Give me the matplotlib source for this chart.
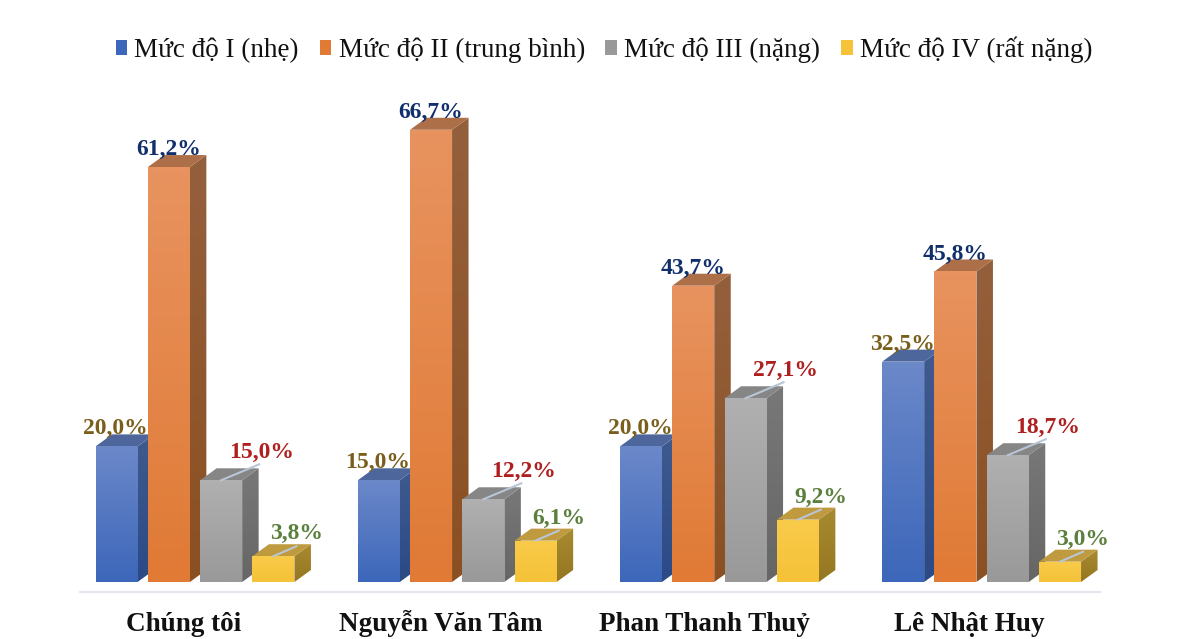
import numpy as np
import matplotlib
matplotlib.use("Agg")
import matplotlib.pyplot as plt
from matplotlib.colors import LinearSegmentedColormap
from matplotlib.patches import Patch, Polygon

studies = ["Chúng tôi", "Nguyễn Văn Tâm", "Phan Thanh Thuỷ", "Lê Nhật Huy"]
levels = ["Mức độ I (nhẹ)", "Mức độ II (trung bình)", "Mức độ III (nặng)", "Mức độ IV (rất nặng)"]
muc_1 = [20.0, 15.0, 20.0, 32.5]
muc_2 = [61.2, 66.7, 43.7, 45.8]
muc_3 = [15.0, 12.2, 27.1, 18.7]
muc_4 = [3.8, 6.1, 9.2, 3.0]

W, H = 1188, 639
PX_X = 262.2   # pixels per group
PX_Y = 6.78    # pixels per percent
BASE_PX = 582
CENTER_PX = 195

bar_w = 42 / PX_X
step = 52.3 / PX_X
dx = 16.5 / PX_X
dy = 12 / PX_Y

# front top/bottom, side top/bottom, top face
styles = [
    ("#6b88c9", "#3d67ba", "#3f5a8e", "#2b4a86", "#4d669c"),
    ("#e8935f", "#e07a35", "#94603c", "#8b5022", "#ad6f48"),
    ("#b0b0b0", "#999999", "#787878", "#666666", "#868686"),
    ("#f9cb4a", "#f5c238", "#a88a30", "#957722", "#bf9a3e"),
]
label_colors = ["#7a5f1c", "#112f6b", "#b01f1f", "#5b7f3c"]
# label offset from the front top centre, in pixels
label_off = [(-1, 12), (0, 12), (40, 22), (23, 17)]
leader_end = [None, None, (38, 16), (23, 10)]

plt.rcParams["font.family"] = ["Liberation Serif", "DejaVu Serif"]

fig = plt.figure(figsize=(W / 100, H / 100), dpi=100)
ax = fig.add_axes([0, 0, 1, 1])


def gradient_face(pts, c_top, c_bottom, zorder):
    cmap = LinearSegmentedColormap.from_list("f", [c_top, c_bottom])
    pts = np.array(pts)
    im = ax.imshow(np.linspace(0, 1, 64).reshape(-1, 1), cmap=cmap, aspect="auto",
                   extent=(pts[:, 0].min(), pts[:, 0].max(), pts[:, 1].min(), pts[:, 1].max()),
                   interpolation="bilinear", zorder=zorder)
    face = Polygon(pts, closed=True, transform=ax.transData, facecolor="none", edgecolor="none")
    ax.add_patch(face)
    im.set_clip_path(face)


series = [muc_1, muc_2, muc_3, muc_4]
for s, values in enumerate(series):
    front_top, front_bot, side_top, side_bot, top_c = styles[s]
    for g, v in enumerate(values):
        left = g + (s - 1.5) * step - bar_w / 2
        right = left + bar_w
        z = 2 + s
        gradient_face([(left, 0), (right, 0), (right, v), (left, v)], front_top, front_bot, z + 0.2)
        gradient_face([(right, 0), (right + dx, dy), (right + dx, v + dy), (right, v)], side_top, side_bot, z)
        ax.add_patch(Polygon([(left, v), (right, v), (right + dx, v + dy), (left + dx, v + dy)],
                             closed=True, facecolor=top_c, edgecolor="none", zorder=z))
        cx = (left + right) / 2
        if leader_end[s] is not None:
            ex, ey = leader_end[s]
            ax.plot([cx, cx + ex / PX_X], [v, v + ey / PX_Y], color="#b9c6d6", lw=1.5, zorder=7)
        ax.annotate(f"{v:.1f}%".replace(".", ","), (cx, v), xytext=label_off[s],
                    textcoords="offset pixels", ha="center", va="baseline", fontsize=17,
                    fontweight="bold", color=label_colors[s], zorder=8)

# floor line under the groups
ax.plot([-115 / PX_X, (1100 - CENTER_PX) / PX_X], [-10 / PX_Y, -10 / PX_Y], color="#e1e7ed", lw=1.5, zorder=1)

cat_shift = [-11, -16, -15, -12]
for g, name in enumerate(studies):
    ax.annotate(name, (g, 0), xytext=(cat_shift[g], -49), textcoords="offset pixels", ha="center",
                va="baseline", fontsize=19.5, fontweight="bold", color="#111111")

handles = [Patch(facecolor=st[1], edgecolor="none") for st in styles]
ax.legend(handles, levels, ncol=4, loc="center", bbox_to_anchor=(604 / W, 1 - 50 / H),
          frameon=False, fontsize=19.5, handlelength=0.44, handleheight=0.44, handletextpad=0.26,
          columnspacing=0.76, labelcolor="#111111", borderpad=0, borderaxespad=0)

ax.set_xlim(-CENTER_PX / PX_X, (W - CENTER_PX) / PX_X)
ax.set_ylim(-(H - BASE_PX) / PX_Y, BASE_PX / PX_Y)
ax.axis("off")

fig.savefig("out.png", dpi=100)
